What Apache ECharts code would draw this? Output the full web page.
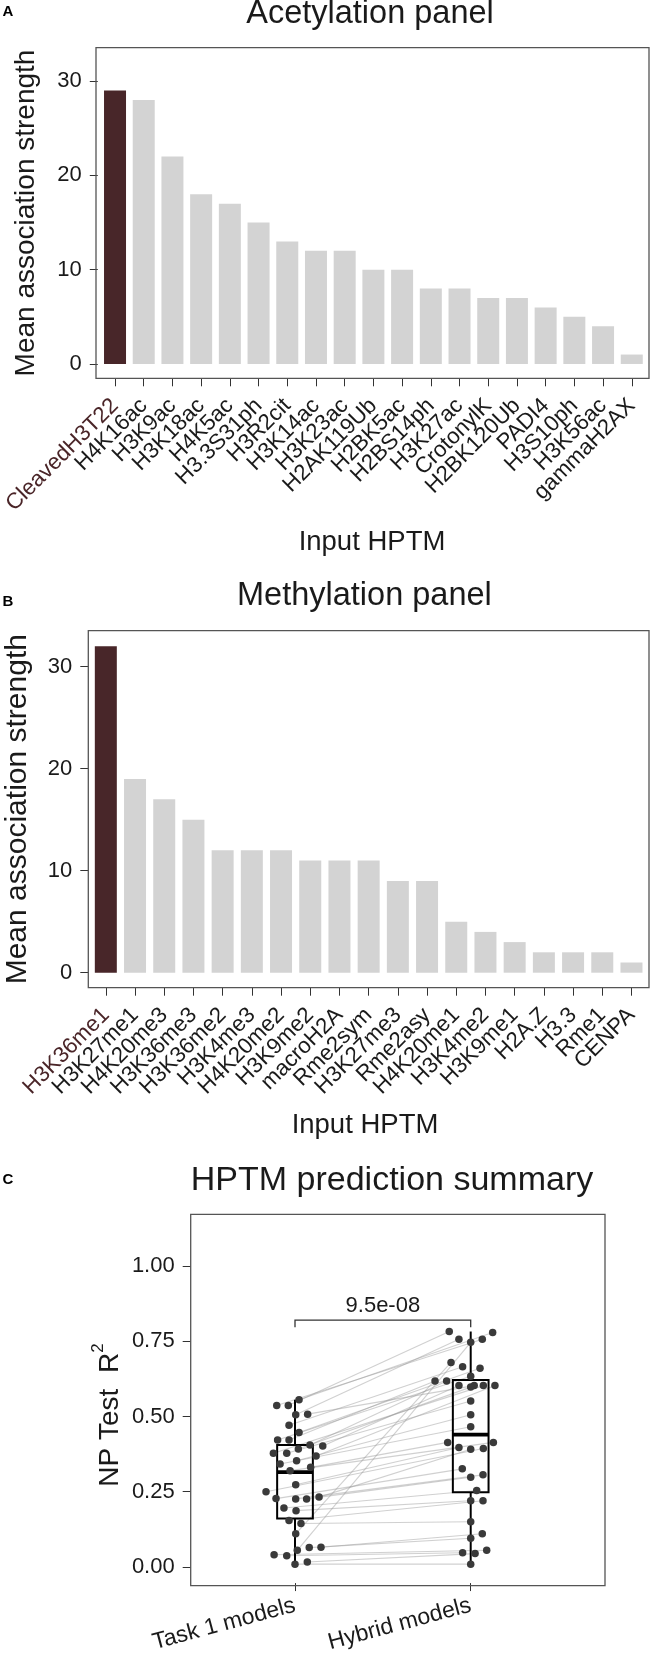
<!DOCTYPE html>
<html>
<head>
<meta charset="utf-8">
<script src="https://cdn.jsdelivr.net/npm/echarts@6/dist/echarts.min.js"></script>
<style>html,body{margin:0;padding:0;background:#fff}#c{width:650px;height:1655px}</style>
</head>
<body>
<div id="c"></div>
<script>
// ---------------- data ----------------
const acetylCategories = ['CleavedH3T22','H4K16ac','H3K9ac','H3K18ac','H4K5ac','H3.3S31ph','H3R2cit','H3K14ac','H3K23ac','H2AK119Ub','H2BK5ac','H2BS14ph','H3K27ac','CrotonylK','H2BK120Ub','PADI4','H3S10ph','H3K56ac','gammaH2AX'];
const acetylValues = [29,28,22,18,17,15,13,12,12,10,10,8,8,7,7,6,5,4,1];
const methylCategories = ['H3K36me1','H3K27me1','H4K20me3','H3K36me3','H3K36me2','H3K4me3','H4K20me2','H3K9me2','macroH2A','Rme2sym','H3K27me3','Rme2asy','H4K20me1','H3K4me2','H3K9me1','H2A.Z','H3.3','Rme1','CENPA'];
const methylValues = [32,19,17,15,12,12,12,11,11,11,9,9,5,4,3,2,2,2,1];
const barTicks = [0,10,20,30];

const summaryCategories = ['Task 1 models','Hybrid models'];
const summaryTicks = [0,0.25,0.5,0.75,1.0];
// paired models: task 1 value and hybrid value for the same model
const task1Values  = [0.556,0.537,0.537,0.508,0.506,0.471,0.447,0.422,0.422,0.405,0.402,0.392,0.378,0.378,0.369,0.353,0.342,0.331,0.320,0.273,0.250,0.232,0.227,0.226,0.226,0.196,0.187,0.154,0.144,0.110,0.065,0.064,0.055,0.040,0.037,0.016,0.009];
const task1Jitter  = [0.023,-0.104,-0.038,0.072,0.004,-0.034,0.023,-0.099,-0.034,0.085,0.158,0.019,-0.123,-0.047,0.120,0.009,-0.085,0.089,-0.028,0.004,-0.165,0.137,-0.108,0.004,0.066,-0.063,0.006,-0.034,0.034,0.004,0.148,0.081,0.013,-0.119,-0.047,0.070,0.000];
const hybridValues = [0.780,0.757,0.783,0.603,0.757,0.666,0.661,0.634,0.618,0.618,0.603,0.598,0.603,0.552,0.603,0.506,0.466,0.414,0.414,0.397,0.394,0.391,0.326,0.306,0.298,0.254,0.220,0.220,0.150,0.680,0.110,0.095,0.747,0.055,0.047,0.044,0.009];
const hybridJitter = [0.125,0.066,-0.122,0.020,-0.067,-0.046,0.053,0.000,-0.203,-0.137,-0.067,0.000,0.072,0.000,0.138,0.000,0.000,-0.131,0.129,-0.067,0.072,0.000,-0.048,0.070,0.000,0.034,0.000,0.070,0.000,-0.112,0.066,0.000,0.000,0.091,-0.046,0.025,0.000];
// boxplot statistics: [lower whisker, Q1, median, Q3, upper whisker]
const boxStats = [[0.009,0.161,0.315,0.405,0.556],[0.009,0.248,0.440,0.622,0.783]];
const pValueLabel = '9.5e-08';
const bracketLevels = [0.797,0.821]; // bracket foot and top

// ---------------- layout / style ----------------
const FONT = "'Liberation Sans', Arial, Helvetica, sans-serif";
const TXT = '#1a1a1a';
const HIGHLIGHT = '#4a2528';
const BAR_DARK = '#482629';
const BAR_LIGHT = '#d3d3d3';
const FRAME = '#555555';

// panel frames (pixels)
const boxA = {x0:96, x1:649, y0:47.7, y1:378.3};
const boxB = {x0:88.3, x1:649, y0:630.7, y1:987.7};
const boxC = {x0:190.7, x1:605, y0:1214.3, y1:1585.7};

// bar panels: discrete axis padded by 0.6 step on each side -> category bands start 0.1 step inside frame
function barGrid(box, n) {
  const u = (box.x1 - box.x0) / (n + 0.2);
  return {left: box.x0 + 0.1*u, top: box.y0, width: n*u, height: box.y1 - box.y0, off: 0.1*u};
}
const gA = barGrid(boxA, acetylCategories.length);
const gB = barGrid(boxB, methylCategories.length);
// summary panel: groups centred at 295 / 470.7 px
const gC = {left:207.15, width:351.4, top:boxC.y0, height:boxC.y1 - boxC.y0};
gC.off = gC.left - boxC.x0;

const chart = echarts.init(document.getElementById('c'), null, {renderer:'canvas', width:650, height:1655});

const tickStyle = {color:'#333', width:1};
function catAxis(gridIndex, cats, extra) {
  return Object.assign({
    type:'category', gridIndex, data:cats,
    axisLine:{show:false, onZero:false},
    axisTick:{show:true, alignWithLabel:true, interval:0, length:8, lineStyle:tickStyle},
    axisLabel:{interval:0, rotate:45, fontSize:22.3, fontFamily:FONT, margin:24,
      color:(v, i) => i === 0 ? HIGHLIGHT : TXT},
    splitLine:{show:false}
  }, extra || {});
}
function valAxis(gridIndex, min, max, off, ticks, fmt) {
  return {
    type:'value', gridIndex, min, max, offset:off,
    axisLine:{show:false, onZero:false},
    axisTick:{show:true, length:8, customValues:ticks, lineStyle:tickStyle},
    axisLabel:{customValues:ticks, fontSize:22, fontFamily:FONT, color:TXT, margin:16, formatter:fmt},
    splitLine:{show:false}
  };
}
function barSeries(idx, values) {
  return {
    type:'bar', xAxisIndex:idx, yAxisIndex:idx, barWidth:22, silent:true,
    data: values.map((v, i) => ({value:v, itemStyle:{color: i === 0 ? BAR_DARK : BAR_LIGHT}}))
  };
}
function txt(x, y, text, size, opts) {
  opts = opts || {};
  return {
    type:'text', x, y, rotation: opts.rotation || 0, silent:true, z:100,
    style:{text, font:(opts.weight||'normal') + ' ' + size + 'px ' + FONT,
      fill: opts.fill || TXT, align:'center', verticalAlign:'middle',
      textAlign:'center', textVerticalAlign:'middle'}
  };
}
function frame(b) {
  return {type:'rect', silent:true, z:50, shape:{x:b.x0, y:b.y0, width:b.x1-b.x0, height:b.y1-b.y0},
    style:{fill:'none', stroke:FRAME, lineWidth:1.3}};
}

const linePairs = task1Values.map((v, i) => [task1Jitter[i], v, 1 + hybridJitter[i], hybridValues[i]]);

const option = {
  animation:false,
  backgroundColor:'#ffffff',
  grid:[
    {left:gA.left, top:gA.top, width:gA.width, height:gA.height},
    {left:gB.left, top:gB.top, width:gB.width, height:gB.height},
    {left:gC.left, top:gC.top, width:gC.width, height:gC.height}
  ],
  xAxis:[
    catAxis(0, acetylCategories),
    catAxis(1, methylCategories),
    catAxis(2, summaryCategories, {
      axisLabel:{interval:0, rotate:15, fontSize:23, fontFamily:FONT, color:TXT, margin:22}}),
    {type:'value', gridIndex:2, min:-0.5, max:1.5, show:false, axisLine:{onZero:false}}
  ],
  yAxis:[
    valAxis(0, -1.52, 33.54, gA.off, barTicks),
    valAxis(1, -1.47, 33.53, gB.off, barTicks),
    valAxis(2, -0.054, 1.173, gC.off, summaryTicks, v => Number(v).toFixed(2))
  ],
  series:[
    barSeries(0, acetylValues),
    barSeries(1, methylValues),
    {
      type:'custom', xAxisIndex:3, yAxisIndex:2, silent:true, z:1,
      data: linePairs, encode:{x:[0,2], y:[1,3]},
      renderItem:(params, api) => {
        const p1 = api.coord([api.value(0), api.value(1)]);
        const p2 = api.coord([api.value(2), api.value(3)]);
        return {type:'line', shape:{x1:p1[0], y1:p1[1], x2:p2[0], y2:p2[1]},
          style:{stroke:'rgba(150,150,150,0.45)', lineWidth:1.1}};
      }
    },
    {
      type:'custom', xAxisIndex:3, yAxisIndex:2, silent:true, z:2,
      data: boxStats.map((s, i) => [i].concat(s)), encode:{x:0, y:[1,2,3,4,5]},
      renderItem:(params, api) => {
        const i = api.value(0), hw = 0.1016;
        const lo = api.coord([i, api.value(1)]), q1 = api.coord([i - hw, api.value(2)]);
        const md = api.coord([i - hw, api.value(3)]), q3 = api.coord([i + hw, api.value(4)]);
        const hi = api.coord([i, api.value(5)]), mdR = api.coord([i + hw, api.value(3)]);
        const st = {stroke:'#000', lineWidth:2, fill:'none'};
        return {type:'group', children:[
          {type:'line', shape:{x1:lo[0], y1:lo[1], x2:lo[0], y2:q1[1]}, style:st},
          {type:'line', shape:{x1:hi[0], y1:hi[1], x2:hi[0], y2:q3[1]}, style:st},
          {type:'rect', shape:{x:q1[0], y:q3[1], width:q3[0]-q1[0], height:q1[1]-q3[1]}, style:st},
          {type:'line', shape:{x1:md[0], y1:md[1], x2:mdR[0], y2:md[1]}, style:{stroke:'#000', lineWidth:3.8}}
        ]};
      }
    },
    {
      type:'scatter', xAxisIndex:3, yAxisIndex:2, silent:true, z:3,
      symbolSize:7.5, itemStyle:{color:'#3a3a3a', opacity:1},
      data: task1Values.map((v, i) => [task1Jitter[i], v])
    },
    {
      type:'scatter', xAxisIndex:3, yAxisIndex:2, silent:true, z:3,
      symbolSize:7.5, itemStyle:{color:'#3a3a3a', opacity:1},
      data: hybridValues.map((v, i) => [1 + hybridJitter[i], v])
    },
    {
      type:'custom', xAxisIndex:3, yAxisIndex:2, silent:true, z:4,
      data:[[0, 1, bracketLevels[0], bracketLevels[1]]], encode:{x:[0,1], y:[2,3]},
      renderItem:(params, api) => {
        const a = api.coord([api.value(0), api.value(2)]), b = api.coord([api.value(0), api.value(3)]);
        const c = api.coord([api.value(1), api.value(3)]), d = api.coord([api.value(1), api.value(2)]);
        const m = api.coord([(api.value(0) + api.value(1)) / 2, api.value(3)]);
        return {type:'group', children:[
          {type:'polyline', shape:{points:[a, b, c, d]}, style:{stroke:'#333', lineWidth:1.3, fill:'none'}},
          {type:'text', x:m[0], y:m[1] - 14, style:{text:pValueLabel, font:'22px ' + FONT, fill:TXT,
            align:'center', verticalAlign:'middle'}}
        ]};
      }
    }
  ],
  graphic:[
    frame(boxA), frame(boxB), frame(boxC),
    txt(8, 12, 'A', 15, {weight:'bold', fill:'#000'}),
    txt(8, 602, 'B', 15, {weight:'bold', fill:'#000'}),
    txt(8, 1180, 'C', 15, {weight:'bold', fill:'#000'}),
    txt(370, 14.5, 'Acetylation panel', 32.5),
    txt(364.4, 596, 'Methylation panel', 32.5),
    txt(392, 1180.5, 'HPTM prediction summary', 34),
    txt(26, (boxA.y0 + boxA.y1) / 2, 'Mean association strength', 28, {rotation:Math.PI/2}),
    txt(18, (boxB.y0 + boxB.y1) / 2, 'Mean association strength', 30, {rotation:Math.PI/2}),
    txt(372, 542.5, 'Input HPTM', 27.5),
    txt(365, 1125.5, 'Input HPTM', 27.5),
    {type:'text', x:107, y:1415, rotation:Math.PI/2, silent:true, z:100,
      style:{text:'{n|NP Test  R}{s|2}', fill:TXT, align:'center', verticalAlign:'middle',
        textAlign:'center', textVerticalAlign:'middle',
        rich:{n:{fontSize:28, fontFamily:FONT, fill:TXT, color:TXT, verticalAlign:'bottom', lineHeight:34},
              s:{fontSize:17, fontFamily:FONT, fill:TXT, color:TXT, verticalAlign:'top', lineHeight:34}}}}
  ]
};
chart.setOption(option);
</script>
</body>
</html>
